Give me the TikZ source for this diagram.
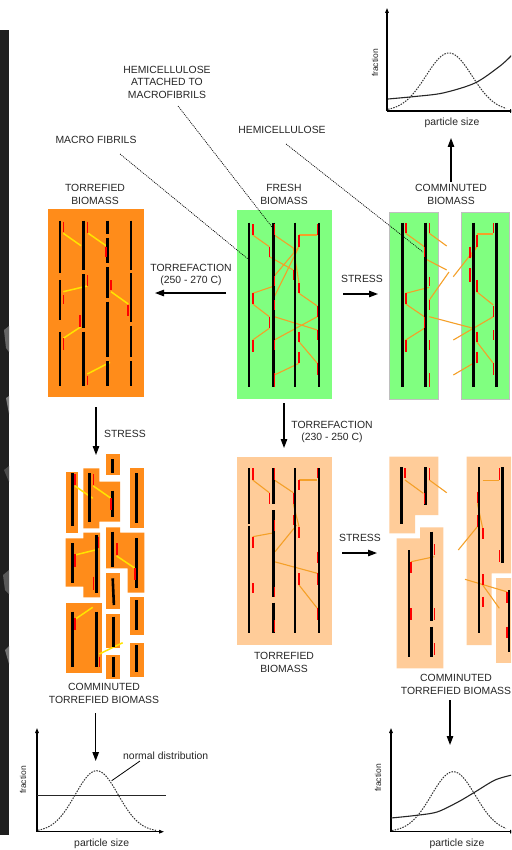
\documentclass[tikz,border=0pt]{standalone}
\usepackage{fontspec}
\setmainfont{Liberation Sans}
\usetikzlibrary{arrows.meta}
\definecolor{greenbox}{RGB}{128,255,128}
\definecolor{torrbox}{RGB}{255,140,26}
\definecolor{peach}{RGB}{255,204,153}
\definecolor{hemior}{RGB}{245,160,40}
\definecolor{hemiyel}{RGB}{255,228,0}
\definecolor{redmark}{RGB}{255,0,0}
\tikzset{
  fib/.style={line width=2.6pt, draw=black},
  redm/.style={line width=1.6pt, draw=redmark},
  hline/.style={line width=1.1pt, draw=hemior},
  yline/.style={line width=1.5pt, draw=hemiyel},
  lbl/.style={font=\fontsize{10.4}{12.5}\selectfont, align=center, inner sep=0pt, text=black!85},
  small/.style={font=\fontsize{8.5}{10}\selectfont, inner sep=0pt, text=black!85},
  flow/.style={-{Triangle[length=9pt,width=6.5pt]}, line width=1.2pt},
  axis/.style={-{Triangle[length=5pt,width=3.6pt]}, line width=1.1pt},
  lead/.style={line width=0.7pt, dash pattern=on 1pt off 1pt},
  dist/.style={line width=1pt, dash pattern=on 1.5pt off 1.2pt, black!80},
  curve/.style={line width=1.1pt, black!85},
  panel/.style={rectangle, inner sep=0pt, outer sep=0pt},
}
\begin{document}
\begin{tikzpicture}[x=1pt,y=-1pt]
\useasboundingbox (0,0) rectangle (511,850);
\clip (0,0) rectangle (511,850);
\fill[white] (0,0) rectangle (511,850);

% photographic strip at the left edge
\fill[black!88] (0,30) rectangle (9,835);
\fill[black!60] (4,330) -- (9,326) -- (9,352) -- (6,348) -- cycle;
\fill[black!50] (6,398) -- (9,396) -- (9,414) -- cycle;
\fill[black!65] (3,575) -- (9,570) -- (9,594) -- (5,590) -- cycle;
\fill[black!55] (5,650) -- (9,646) -- (9,664) -- cycle;
\fill[black!70] (4,470) -- (9,466) -- (9,482) -- cycle;

% ---------- panels ----------
\node[panel, fill=torrbox, minimum width=96pt, minimum height=188pt] (torr) at (95.85,303) {};
\node[panel, fill=greenbox, minimum width=95pt, minimum height=188pt] (fresh) at (284.2,304.5) {};
\node[panel, fill=greenbox, draw=black!25, line width=0.8pt, minimum width=49pt, minimum height=187pt] (commL) at (413.5,305.5) {};
\node[panel, fill=greenbox, draw=black!25, line width=0.8pt, minimum width=47.3pt, minimum height=187pt] (commR) at (485.35,305.5) {};
\node[panel, fill=peach, minimum width=95pt, minimum height=188pt] (torrB) at (284.2,551) {};

% comminuted torrefied pieces (right)
\fill[peach] (389.3,456.7)--(438.3,456.7)--(438.3,515)--(415,515)--(415,533.3)--(389.3,533.3)--cycle;
\fill[peach] (396.7,538.3)--(420,538.3)--(420,527.3)--(443.3,527.3)--(443.3,668.3)--(396.7,668.3)--cycle;
\fill[peach] (466.7,456.7)--(512,456.7)--(512,573.3)--(491.7,573.3)--(491.7,645)--(466.7,645)--cycle;
\fill[peach] (496,578.3)--(512,578.3)--(512,663)--(496,663)--cycle;

% comminuted torrefied pieces (left)
\fill[torrbox] (65.7,471.7) rectangle (78.3,533.3);
\fill[torrbox] (83.3,468.3)--(99.3,468.3)--(99.3,481.7)--(120,481.7)--(120,521.7)--(99.3,521.7)--(99.3,528.3)--(83.3,528.3)--cycle;
\fill[torrbox] (106,454.3) rectangle (120,475);
\fill[torrbox] (130,468.3) rectangle (144.3,528.3);
\fill[torrbox] (65.7,538.3)--(83.3,538.3)--(83.3,532.7)--(100,532.7)--(100,597.3)--(83.3,597.3)--(83.3,586.7)--(65.7,586.7)--cycle;
\fill[torrbox] (106,527.3)--(120,527.3)--(120,532.7)--(144.3,532.7)--(144.3,592.7)--(127.7,592.7)--(127.7,568.3)--(106,568.3)--cycle;
\fill[torrbox] (106,572.7) rectangle (120,609.3);
\fill[torrbox] (130,596.7) rectangle (144.3,635);
\fill[torrbox] (65.7,603.3) rectangle (101.7,672.7);
\fill[torrbox] (106,614) rectangle (120,648.3);
\fill[torrbox] (106,655) rectangle (120,679.3);
\fill[torrbox] (130,643.3) rectangle (144.3,676.7);

% ---------- hemicellulose strands ----------
% torrefied (yellow)
\foreach \a/\b/\c/\d in {63.3/233.3/81/245.7, 88.3/233.3/106/245.7, 63.3/291.7/87.3/286, 111/291.7/128.3/304,
  63.3/338.3/81/326.7, 87.3/374/110/362.3}
  \draw[yline] (\a,\b) -- (\c,\d);
% fresh
\foreach \a/\b/\c/\d in {252.7/235/269.3/246.7, 274.3/235/293.3/248, 293.3/248/299/283.3, 299/235/317.3/235,
  299/246.7/274.3/276, 269.3/256.7/293.3/270, 252.7/293.3/274.3/286, 274.3/296.7/299/246.7,
  252.7/304/269.3/316.7, 299/293.3/317.3/306, 274.3/316.7/317.3/330, 252.7/340/269.3/328.3,
  274.3/340/317.3/316.7, 299/341.7/317.3/363.3, 274.3/375/299/363.3}
  \draw[hline] (\a,\b) -- (\c,\d);
% comminuted
\foreach \a/\b/\c/\d in {405.7/233.3/424.3/246.7, 429.3/233.3/446.7/246, 424.3/258.3/446.7/270,
  405.7/293.3/429.3/287.3, 405.7/304/424.3/316.7, 429.3/300/449/272, 429.3/316.7/473.3/328.3,
  405.7/340/424.3/328.3, 453.3/340/493.3/316.7, 453.3/375/473.3/363.3, 476.7/234/493.3/234,
  476.7/246.7/453.3/276.7, 476.7/291.7/493.3/305, 476.7/341.7/493.3/363.3, 476.7/246.7/470/258.3}
  \draw[hline] (\a,\b) -- (\c,\d);
% torrefied at 230-250 C
\foreach \a/\b/\c/\d in {252.7/480/269.3/492.7, 274.3/480/293.3/492.7, 299/480/317.3/480, 293.3/504/299/526.7,
  252.7/536.7/274.3/532.7, 275/551.7/296.7/525, 274.3/561.7/317.3/573.3, 299/585/317.3/608.3}
  \draw[hline] (\a,\b) -- (\c,\d);
\foreach \a/\b/\c/\d in {405/480/423.3/493.3, 429.3/480/446.7/492.7, 411/561.7/434.3/556.7, 482.7/480.7/499.3/480.7,
  477.3/503.3/482.7/528.3, 477.3/526.7/458.3/550, 465/579.3/506.7/591.7, 482.7/585/499.3/608.3}
  \draw[hline] (\a,\b) -- (\c,\d);
% comminuted torrefied (yellow)
\foreach \a/\b/\c/\d in {75/486/92.7/498.3, 93.3/486/111/498.3, 75/555/98.3/549.3, 116.7/556/135/568.3,
  75/619.3/92.7/607.3, 99.3/654/122.7/642.7}
  \draw[yline] (\a,\b) -- (\c,\d);

% ---------- macro fibrils ----------
\foreach \x/\a/\b in {60/220.7/272.7, 60/280/320, 60/331.7/386,
  83.3/220.7/270, 83.3/274/328.3, 83.3/331.7/386,
  107.3/220.7/234, 107.3/238.3/263.3, 107.3/267.3/298.3, 107.3/301.7/356.7, 107.3/361/386,
  131/220.7/270, 131/273.3/321.7, 131/325.7/356.7, 131/361/386,
  249/222.7/387.3, 273.3/222.7/387.3, 295/222.7/387.3, 319/222.7/387.3,
  402.3/222.7/387.3, 425.7/222.7/387.3, 473.3/222.7/387.3, 496.7/222.7/387.3,
  249/468.3/524, 249/525.7/633.3, 273.3/468.3/504, 273.3/510/597.3, 273.3/602.7/633.3,
  295/468.3/633.3, 319/468.3/633.3,
  401.7/467.3/524, 425.7/467.3/505, 409/550/656.7, 431.7/531.7/620.7, 431.7/626.7/656.7,
  479/467.3/633.3, 502.7/467.3/562.7, 509/590/651.7,
  72.7/473.3/526, 89.3/473.3/521.7, 112.7/490.7/516.7, 112.7/459.3/472.7, 136.7/473.3/523.3,
  72.7/543.3/582.7, 96.7/535/592.7, 112.7/531.7/566.7, 136.7/538.3/588.3,
  136.7/600/630, 72.7/611.7/666.7, 96.7/611.7/666.7, 113.3/616.7/646.7, 113.3/656.7/676.7, 136.7/645/671.7}
  \draw[fib] (\x,\a) -- (\x,\b);
\draw[fib] (112.7,578.3) -- (113.9,605);

% ---------- reactive sites ----------
\foreach \x/\a/\b in {63.3/221.7/231.7, 63.3/295/304, 63.3/338/350, 87.3/221.7/233.3, 87.3/275/286,
  80/315/326.7, 87.3/376/385, 106/246.7/257.3, 111/280/290, 127.7/305/316,
  252.7/224/235, 274.3/224/235, 269.3/246.7/256.7, 274.3/276/286, 293.3/270/280, 299/235/246.7,
  317.3/224/235, 299/283.3/293.3, 252.7/293.3/304, 269.3/316.7/328.3, 274.3/300/310, 317.3/306/316.7,
  317.3/330/340, 299/331.7/341.7, 252.7/340/351.7, 274.3/340/350, 299/351.7/363.3, 317.3/363.3/375,
  274.3/373.3/386.7,
  405.7/223.3/233.3, 429.3/223.3/233.3, 424.3/246.7/256.7, 429.3/276.7/286, 405.7/293.3/304,
  424.3/316.7/328.3, 429.3/300/310, 405.7/340/351.7, 429.3/340/350, 429.3/373.3/386.7,
  493.3/223.3/233.3, 476.7/235/246.7, 470/246.7/258.3, 470/268.3/281.7, 476.7/280/291.7,
  493.3/306/316.7, 476.7/331.7/341.7, 493.3/330/340, 476.7/351.7/363.3, 493.3/363.3/375,
  252.7/468.3/480, 274.3/468.3/480, 269.3/493.3/504, 293.3/493.3/504, 299/480/490, 317.3/468.3/478.3,
  293.3/515/525, 299/526.7/538.3, 274.3/520/530.7, 252.7/536.7/548.3, 317.3/551.7/563.3,
  317.3/573.3/585, 299/573.3/585, 252.7/583.3/593.3, 274.3/586.7/597.3, 317.3/608.3/620, 274.3/620/631.7,
  405/468.3/478.3, 429.3/468.3/480, 424.3/493.3/504, 411/561.7/573.3, 434.3/544/555, 411/608.3/620,
  434.3/608.3/620, 434.3/643.3/655, 499.3/468.3/480, 477.3/491.7/503.3, 477.3/515/526.7,
  482.7/528.3/539.3, 499.3/550/561.7, 482.7/574/585, 482.7/596.7/607.3, 506.7/591.7/603.3, 506.7/626.7/638.3,
  75/474/485, 93.3/474/485, 111/498.3/510, 75/554/566.7, 98.3/536.7/548.3, 93.3/576.7/590,
  116.7/543.3/555, 135/568.3/580, 75/618.3/630, 99.3/656.7/666.7}
  \draw[redm] (\x,\a) -- (\x,\b);

% ---------- labels ----------
\node[lbl] (lhemiatt) at (167,82) {HEMICELLULOSE\\ATTACHED TO\\MACROFIBRILS};
\node[lbl] (lmacro) at (96,140) {MACRO FIBRILS};
\node[lbl] (lhemi) at (282,130) {HEMICELLULOSE};
\node[lbl] (ltorr) at (95,194.5) {TORREFIED\\BIOMASS};
\node[lbl] (lfresh) at (284,194.5) {FRESH\\BIOMASS};
\node[lbl] (lcomm) at (451,194.5) {COMMINUTED\\BIOMASS};
\node[lbl] (lt1) at (191,275) {TORREFACTION\\(250 - 270 C)};
\node[lbl] (ls1) at (362,279) {STRESS};
\node[lbl] (lt2) at (332,432) {TORREFACTION\\(230 - 250 C)};
\node[lbl] (ls2) at (125,434) {STRESS};
\node[lbl] (ls3) at (360,538) {STRESS};
\node[lbl] (ltorrB) at (284,662.5) {TORREFIED\\BIOMASS};
\node[lbl] (lcommR) at (456,684.5) {COMMINUTED\\TORREFIED BIOMASS};
\node[lbl] (lcommL) at (104,693.5) {COMMINUTED\\TORREFIED BIOMASS};

% ---------- leader lines ----------
\coordinate (macroA) at (120,154);  \coordinate (macroB) at (248,259);
\coordinate (attA) at (178,106);    \coordinate (attB) at (272,227);
\coordinate (hemA) at (286,144);    \coordinate (hemB) at (423,252);
\draw[lead] (macroA) -- (macroB);
\draw[lead] (attA) -- (attB);
\draw[lead] (hemA) -- (hemB);

% ---------- process arrows ----------
\coordinate (t1a) at (226,293);  \coordinate (t1b) at (155,293);
\coordinate (s1a) at (343,294);  \coordinate (s1b) at (378,294);
\coordinate (upa) at (451,182);  \coordinate (upb) at (451,138);
\coordinate (t2a) at (284,403);  \coordinate (t2b) at (284,448);
\coordinate (s2a) at (96,407);   \coordinate (s2b) at (96,455);
\coordinate (s3a) at (342,553);  \coordinate (s3b) at (377,553);
\coordinate (dLa) at (95.7,713); \coordinate (dLb) at (95.7,761);
\coordinate (dRa) at (450,700);  \coordinate (dRb) at (450,745);
\foreach \p/\q in {t1a/t1b, s1a/s1b, upa/upb, t2a/t2b, s2a/s2b, s3a/s3b, dLa/dLb, dRa/dRb}
  \draw[flow] (\p) -- (\q);

% ---------- particle size distributions ----------
% comminuted biomass
\coordinate (g1o) at (387,111);
\coordinate (g1y) at (387,8);
\coordinate (g1x) at (515,111);
\draw[axis] (g1o) -- (g1y);
\draw[axis] (g1o) -- (g1x);
\draw[dist] plot[domain=388:506, samples=70] (\x,{111-58*exp(-((\x-449)^2)/(2*23*23))});
\draw[curve] plot[smooth] coordinates {(388,99) (415,96.5) (443,93) (475,83) (500,66) (512,55)};
\node[small, rotate=90] (g1f) at (375,63) {fraction};
\node[lbl] (g1p) at (452,123) {particle size};

% comminuted torrefied biomass (left)
\coordinate (g2o) at (37,831.7);
\coordinate (g2y) at (37,728);
\coordinate (g2x) at (164,831.7);
\draw[axis] (g2o) -- (g2y);
\draw[axis] (g2o) -- (g2x);
\draw[curve] (37,795.7) -- (166,795.7);
\draw[dist] plot[domain=38:156, samples=70] (\x,{831.7-61*exp(-((\x-96.7)^2)/(2*21.5*21.5))});
\node[small, rotate=90] (g2f) at (23,780) {fraction};
\node[lbl] (g2p) at (101.7,844) {particle size};
\node[lbl, anchor=west] (lnorm) at (123,756) {normal distribution};
\coordinate (normA) at (140,761);
\coordinate (normB) at (111.7,780.7);
\draw[line width=0.8pt] (normA) -- (normB);

% comminuted torrefied biomass (right)
\coordinate (g3o) at (391,831.7);
\coordinate (g3y) at (391,728);
\coordinate (g3x) at (515,831.7);
\draw[axis] (g3o) -- (g3y);
\draw[axis] (g3o) -- (g3x);
\draw[dist] plot[domain=392:506, samples=70] (\x,{831.7-60*exp(-((\x-453.3)^2)/(2*22*22))});
\draw[curve] plot[smooth] coordinates {(391,818) (415,815.5) (437,812) (458,802) (475,792) (495,780) (512,775)};
\node[small, rotate=90] (g3f) at (378,778) {fraction};
\node[lbl] (g3p) at (457,844) {particle size};
\end{tikzpicture}
\end{document}
